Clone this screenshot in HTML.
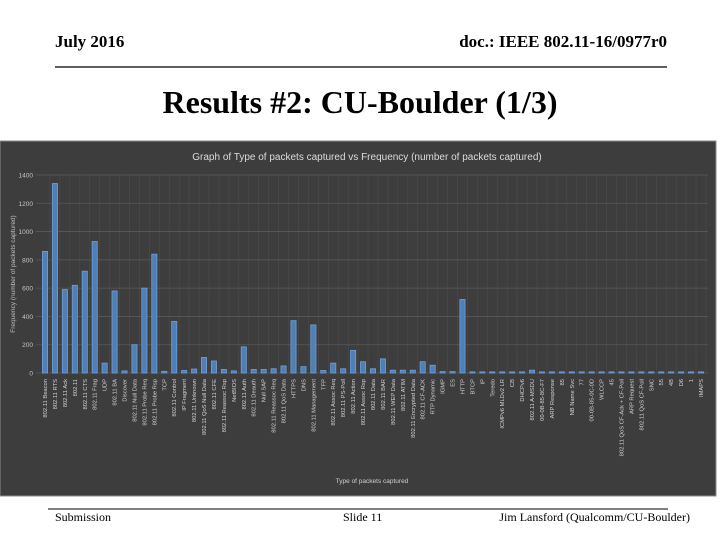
<!DOCTYPE html>
<html><head><meta charset="utf-8"><style>
html,body{margin:0;padding:0;background:#fff;width:720px;height:540px;overflow:hidden}
svg{display:block}
</style></head><body>
<svg width="720" height="540" xmlns="http://www.w3.org/2000/svg">
<g font-family="Liberation Serif, serif" fill="#000">
<text x="55" y="47" font-size="17" font-weight="bold">July 2016</text>
<text x="667" y="47" font-size="17" font-weight="bold" text-anchor="end">doc.: IEEE 802.11-16/0977r0</text>
<line x1="55" y1="67" x2="667" y2="67" stroke="#000" stroke-width="1.2"/>
<text x="360" y="113" font-size="32" font-weight="bold" text-anchor="middle">Results #2: CU-Boulder (1/3)</text>
<line x1="48" y1="509" x2="668" y2="509" stroke="#000" stroke-width="1"/>
<text x="55" y="521" font-size="12">Submission</text>
<text x="343" y="521" font-size="12">Slide 11</text>
<text x="690" y="521" font-size="12" text-anchor="end">Jim Lansford (Qualcomm/CU-Boulder)</text>
</g>
<rect x="0" y="141" width="716" height="355" fill="#3d3d3d" stroke="#8a8a8a" stroke-width="1"/>
<g id="chart" font-family="Liberation Sans, sans-serif"></g>
</svg>
<script>
const categories=["802.11 Beacon","802.11 RTS","802.11 Ack","802.11","802.11 CTS","802.11 Frag","UDP","802.11 BA","Discover","802.11 Null Data","802.11 Probe Req","802.11 Probe Rsp","TCP","802.11 Control","IP Fragment","802.11 Unknown","802.11 QoS Null Data","802.11 CFE","802.11 Reassoc Rsp","NetBIOS","802.11 Auth","802.11 Deauth","Null SAP","802.11 Reassoc Req","802.11 QoS Data","HTTPS","DNS","802.11 Management","TFP","802.11 Assoc Req","802.11 PS-Poll","802.11 Action","802.11 Assoc Rsp","802.11 Data","802.11 BAR","802.11 WEP Data","802.11 ATIM","802.11 Encrypted Data","802.11 CF-ACK","RTP Dynamic","IGMP","ES","HTTP","BTCP","IP","Teredo","ICMPv6 MLDv2 LR","CB","DHCPv6","802.11 A-MSDU","00-0B-85-8C-F7","ARP Response","85","NB Name Svc","77","00-0B-85-0C-0D","WLCCP","45","802.11 QoS CF-Ack + CF-Poll","ARP Request","802.11 QoS CF-Poll","SNC","55","4B","D6","1","IMAPS"];
const values=[860,1340,590,620,720,930,70,580,15,200,600,840,12,365,18,28,110,85,25,15,185,25,25,30,50,370,45,340,18,70,30,160,80,30,100,20,20,20,80,55,10,10,520,8,8,8,8,8,8,20,8,8,8,8,8,8,8,8,8,8,8,8,8,8,8,8,8];
const yTicks=[0,200,400,600,800,1000,1200,1400];
const yMax=1400;
const NS="http://www.w3.org/2000/svg";
const g=document.getElementById('chart');
const X0=45,X1=701,Y0=373,Y1=175,L=36,R=708;
const step=(X1-X0)/(categories.length-1);
const xs=i=>X0+i*step;
const ys=v=>Y0-(v/yMax)*(Y0-Y1);
function mk(t,a){const e=document.createElementNS(NS,t);for(const k in a)e.setAttribute(k,a[k]);g.appendChild(e);return e;}
categories.forEach((c,i)=>{const l=mk('line',{x1:xs(i)+step/2,x2:xs(i)+step/2,y1:Y1,y2:Y0,stroke:'#4c4c4c','stroke-width':0.6});

});
yTicks.forEach(t=>{const l=mk('line',{x1:L,x2:R,y1:ys(t),y2:ys(t),stroke:'#5a5a5a','stroke-width':0.8});


const tx=mk('text',{x:33,y:ys(t)+2.5,'font-size':6.5,fill:'#c4c4c4','text-anchor':'end'});tx.textContent=t;

});
values.forEach((v,i)=>{const b=mk('rect',{x:xs(i)-2.6,y:ys(v),width:5.2,height:Y0-ys(v),fill:'#4f7fb5',stroke:'#6fa0d6','stroke-width':0.8});


const tx=mk('text',{x:0,y:0,'font-size':5.8,fill:'#d2d2d2','text-anchor':'end',transform:`translate(${xs(i)+2},${Y0+6}) rotate(-90)`});tx.textContent=categories[i];

});
let t=mk('text',{x:367,y:160,'font-size':10,fill:'#dcdcdc','text-anchor':'middle'});t.textContent='Graph of Type of packets captured vs Frequency (number of packets captured)';


t=mk('text',{x:0,y:0,'font-size':6.5,fill:'#bdbdbd','text-anchor':'middle',transform:'translate(15,274) rotate(-90)'});t.textContent='Frequency (number of packets captured)';


t=mk('text',{x:372,y:483,'font-size':6.5,fill:'#d0d0d0','text-anchor':'middle'});t.textContent='Type of packets captured';


</script>
</body></html>
